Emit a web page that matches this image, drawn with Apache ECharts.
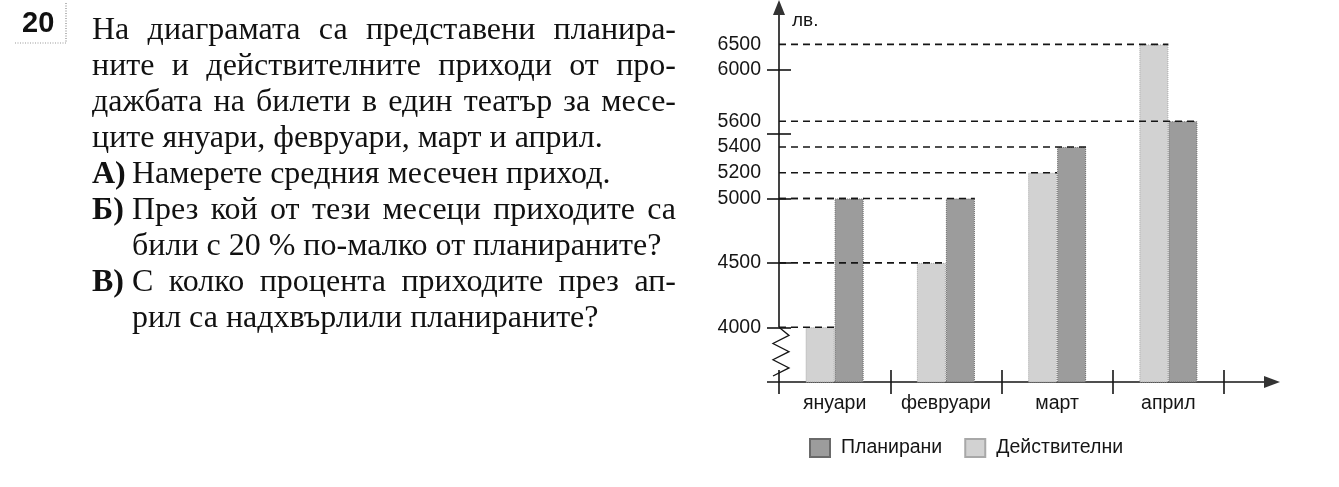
<!DOCTYPE html>
<html>
<head>
<meta charset="utf-8">
<script src="https://cdn.jsdelivr.net/npm/echarts@6/dist/echarts.min.js"></script>
<style>
html, body { margin: 0; padding: 0; background: #ffffff; }
#main { width: 1339px; height: 487px; }
</style>
</head>
<body>
<div id="main"></div>
<script>
// ---------------- data ----------------
const categories = ['януари', 'февруари', 'март', 'април'];
const plannedValues = [5000, 5000, 5400, 5600];
const actualValues = [4000, 4500, 5200, 6500];
const seriesNames = ['Планирани', 'Действителни'];
const yLabelValues = [4000, 4500, 5000, 5200, 5400, 5600, 6000, 6500];
const yTickValues = [4000, 4500, 5000, 5500, 6000];
const unitLabel = 'лв.';
const problemNumber = '20';
const introLines = [
  'На диаграмата са представени планира-',
  'ните и действителните приходи от про-',
  'дажбата на билети в един театър за месе-',
  'ците януари, февруари, март и април.'
];
const questionLabels = ['А)', 'Б)', 'В)'];
const questionLines = [
  ['Намерете средния месечен приход.'],
  ['През кой от тези месеци приходите са', 'били с 20 % по-малко от планираните?'],
  ['С колко процента приходите през ап-', 'рил са надхвърлили планираните?']
];

// ---------------- layout ----------------
const GRID = { left: 779, right: 115, top: 5, bottom: 105 };
const BAR_W = 29;
const SANS = '"Liberation Sans", Arial, sans-serif';
const SERIF_SIZE = 32;
const SERIF = '"Liberation Serif", "Times New Roman", serif';
const INK = '#151515';
const DARK = '#9c9c9c';
const LIGHT = '#d2d2d2';

const chart = echarts.init(document.getElementById('main'), null, { renderer: 'canvas' });

const guideData = [];
for (let i = 0; i < categories.length; i++) {
  guideData.push([i, actualValues[i], 0]);
  guideData.push([i, plannedValues[i], 1]);
}

function renderGuide(params, api) {
  const cat = api.value(0), val = api.value(1), kind = api.value(2);
  const p = api.coord([cat, val]);
  const xEnd = kind === 0 ? p[0] : p[0] + BAR_W;
  return {
    type: 'line',
    shape: { x1: params.coordSys.x, y1: p[1], x2: xEnd, y2: p[1] },
    style: { stroke: INK, lineWidth: 1.6, lineDash: [7, 5] },
    silent: true
  };
}

const yBase = {
  type: 'value',
  position: 'left',
  min: 3575,
  max: 6806,
  breaks: [{ start: 6010, end: 6490, gap: 176 }],
  breakArea: { show: false, itemStyle: { opacity: 0, borderWidth: 0 } },
  breakLabelLayout: { moveOverlap: false },
  splitLine: { show: false },
  axisLine: { show: false }
};

const tickStyle = { color: INK, width: 1.6 };

const option = {
  backgroundColor: '#ffffff',
  animation: false,
  grid: GRID,
  legend: {
    data: seriesNames,
    left: 804,
    top: 433,
    icon: 'rect',
    itemWidth: 20,
    itemHeight: 18,
    itemGap: 22,
    selectedMode: false,
    textStyle: { fontFamily: SANS, fontSize: 19.5, color: INK, padding: [0, 0, 0, 6] }
  },
  xAxis: [
    {
      type: 'category', data: categories, position: 'bottom',
      axisLine: { show: false },
      axisTick: { show: true, length: 12, lineStyle: tickStyle },
      axisLabel: { interval: 0, fontFamily: SANS, fontSize: 19.5, color: INK, margin: 12 }
    },
    {
      type: 'category', data: categories, position: 'bottom',
      axisLine: { show: false },
      axisTick: { show: true, inside: true, length: 12, lineStyle: tickStyle },
      axisLabel: { show: false }
    }
  ],
  yAxis: [
    Object.assign({}, yBase, {
      axisTick: { show: true, length: 12, customValues: yTickValues, lineStyle: tickStyle },
      axisLabel: {
        show: true, customValues: yLabelValues, margin: 18,
        fontFamily: SANS, fontSize: 19.5, color: INK,
        formatter: function (v) { return String(v); }
      }
    }),
    Object.assign({}, yBase, {
      axisTick: { show: true, inside: true, length: 12, customValues: yTickValues, lineStyle: tickStyle },
      axisLabel: { show: false }
    })
  ],
  series: [
    {
      name: seriesNames[1], type: 'bar', data: actualValues,
      barWidth: BAR_W, barGap: '0%',
      itemStyle: { color: LIGHT, borderColor: '#a8a8a8', borderWidth: 1, borderType: 'dotted' }
    },
    {
      name: seriesNames[0], type: 'bar', data: plannedValues,
      barWidth: BAR_W, barGap: '0%',
      itemStyle: { color: DARK, borderColor: '#6a6a6a', borderWidth: 1, borderType: 'dotted' }
    },
    {
      type: 'custom', data: guideData, renderItem: renderGuide, z: 5, silent: true
    }
  ]
};

chart.setOption(option);

// ---------------- decorations & text ----------------
const yFloor = 487 - GRID.bottom;
const axisX = GRID.left;
const y4000 = chart.convertToPixel({ yAxisIndex: 0 }, yTickValues[0]);
const xRight = 1339 - GRID.right;

const elements = [];
// y axis line + arrow
elements.push({ type: 'line', shape: { x1: axisX, y1: 12, x2: axisX, y2: y4000 }, style: { stroke: INK, lineWidth: 1.6 } });
elements.push({ type: 'polygon', shape: { points: [[axisX, 0], [axisX - 6, 15], [axisX + 6, 15]] }, style: { fill: '#333' } });
// zigzag
const zz = [[axisX, y4000]];
const steps = 6;
const dy = (yFloor - y4000 - 6) / steps;
for (let i = 1; i <= steps; i++) {
  zz.push([i % 2 ? axisX + 10 : axisX - 6, y4000 + i * dy]);
}
elements.push({ type: 'polyline', shape: { points: zz }, style: { stroke: INK, lineWidth: 1.3, fill: null } });
// x axis line + arrow
elements.push({ type: 'line', shape: { x1: axisX - 12, y1: yFloor, x2: xRight + 44, y2: yFloor }, style: { stroke: INK, lineWidth: 1.6 } });
elements.push({ type: 'polygon', shape: { points: [[xRight + 56, yFloor], [xRight + 40, yFloor - 6], [xRight + 40, yFloor + 6]] }, style: { fill: '#333' } });
// unit label
elements.push({ type: 'text', x: axisX + 13, y: 21, style: { text: unitLabel, font: '19px ' + SANS, fill: INK, textVerticalAlign: 'middle' } });

// problem number
elements.push({ type: 'text', x: 22, y: 24, style: { text: problemNumber, font: 'bold 29px ' + SANS, fill: '#111', textVerticalAlign: 'middle' } });
elements.push({ type: 'line', shape: { x1: 66, y1: 3, x2: 66, y2: 43 }, style: { stroke: '#888', lineWidth: 1.2, lineDash: [1, 1.5] } });
elements.push({ type: 'line', shape: { x1: 15, y1: 43, x2: 66, y2: 43 }, style: { stroke: '#999', lineWidth: 1.2, lineDash: [1, 1.5] } });

// question text
const measureCtx = document.createElement('canvas').getContext('2d');
const serifFont = SERIF_SIZE + 'px ' + SERIF;
const serifBold = 'bold ' + SERIF_SIZE + 'px ' + SERIF;
function widthOf(s, font) { measureCtx.font = font; return measureCtx.measureText(s).width; }
const TEXT_LEFT = 92, TEXT_INDENT = 132, TEXT_RIGHT = 676, LINE_Y0 = 31, LINE_H = 36;
function addLine(text, left, y, justify) {
  if (!justify) {
    elements.push({ type: 'text', x: left, y: y, style: { text: text, font: serifFont, fill: '#111', textVerticalAlign: 'middle' } });
    return;
  }
  const words = text.split(' ');
  const total = words.reduce((s, w) => s + widthOf(w, serifFont), 0);
  const gap = (TEXT_RIGHT - left - total) / (words.length - 1);
  let x = left;
  words.forEach(w => {
    elements.push({ type: 'text', x: x, y: y, style: { text: w, font: serifFont, fill: '#111', textVerticalAlign: 'middle' } });
    x += widthOf(w, serifFont) + gap;
  });
}
let row = 0;
introLines.forEach((t, i) => {
  addLine(t, TEXT_LEFT, LINE_Y0 + row * LINE_H, i < introLines.length - 1);
  row++;
});
questionLines.forEach((lines, q) => {
  elements.push({ type: 'text', x: TEXT_LEFT, y: LINE_Y0 + row * LINE_H, style: { text: questionLabels[q], font: serifBold, fill: '#111', textVerticalAlign: 'middle' } });
  lines.forEach((t, i) => {
    addLine(t, TEXT_INDENT, LINE_Y0 + row * LINE_H, i < lines.length - 1);
    row++;
  });
});

chart.setOption({ graphic: { elements: elements } });
</script>
</body>
</html>
